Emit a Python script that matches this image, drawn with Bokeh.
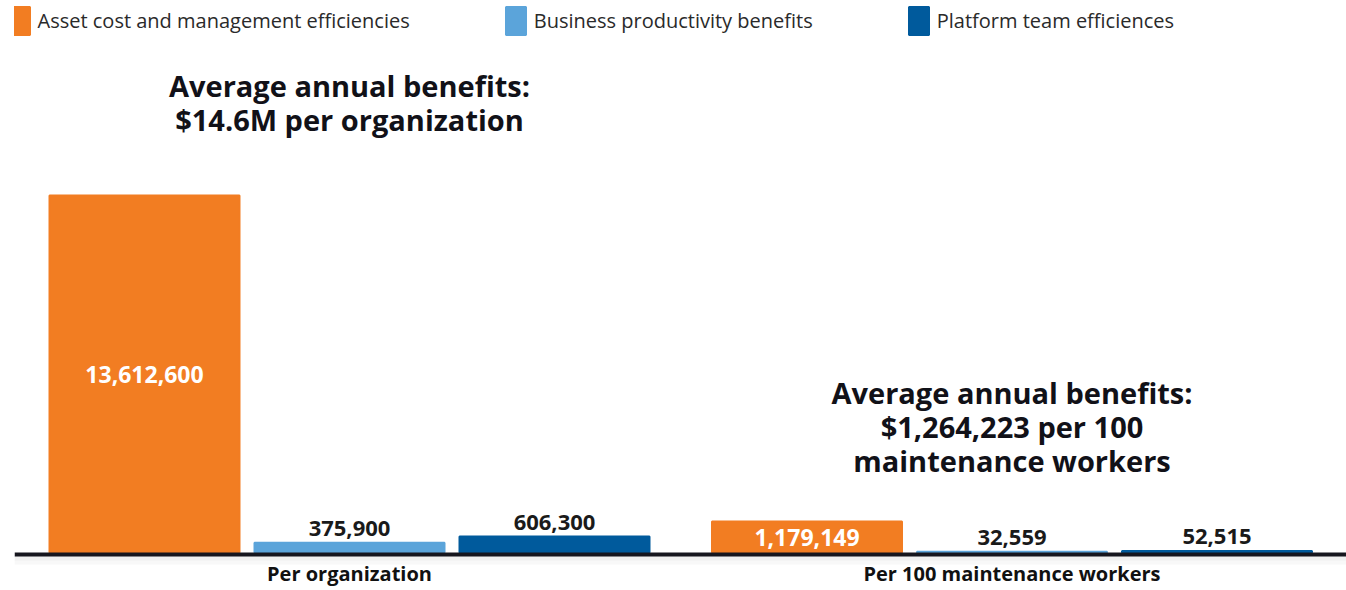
from bokeh.plotting import figure
from bokeh.models import Range1d, Legend, LegendItem, ColumnDataSource, Span
from bokeh.core.properties import value
from bokeh.embed import file_html
from bokeh.resources import INLINE

# ---- data ----
groups = ["Per organization", "Per 100 maintenance workers"]
series = ["Asset cost and management efficiencies",
          "Business productivity benefits",
          "Platform team efficiences"]
per_org = [13612600, 375900, 606300]
per_100 = [1179149, 32559, 52515]
titles = ["Average annual benefits:\n$14.6M per organization",
          "Average annual benefits:\n$1,264,223 per 100\nmaintenance workers"]
colors = ["#F27D22", "#5BA4DA", "#005A9C"]

# ---- layout constants (pixels) ----
W, H = 1346, 590
LEFT = 14                # frame starts here (baseline starts here)
BASE_FROM_TOP = 552      # baseline position (px from top)
BAR_PX = 357             # pixel height of largest bar
X0, SSTEP, GSTEP, BAR_W = 144, 205, 662.5, 190
FONT = "Open Sans"

upp = max(per_org) / BAR_PX   # data units per pixel

p = figure(width=W, height=H, output_backend="svg", toolbar_location=None,
           x_range=Range1d(LEFT, W),
           y_range=Range1d(-(H - BASE_FROM_TOP) * upp, BASE_FROM_TOP * upp),
           min_border=0, min_border_left=LEFT)
p.outline_line_color = None
p.grid.visible = False
p.axis.visible = False
p.background_fill_color = "white"
p.border_fill_color = "white"

vals = [per_org, per_100]
items = []
for i, name in enumerate(series):
    xs = [X0 + g * GSTEP + i * SSTEP for g in range(len(groups))]
    tops = [vals[g][i] for g in range(len(groups))]
    src = ColumnDataSource(dict(x=xs, left=[x - BAR_W / 2 for x in xs],
                                right=[x + BAR_W / 2 for x in xs], top=tops,
                                label=[f"{v:,}" for v in tops],
                                mid=[t / 2 for t in tops]))
    r = p.quad(left="left", right="right", top="top", bottom=0, source=src,
               fill_color=colors[i], line_color=colors[i], line_width=2)
    items.append(LegendItem(label=name, renderers=[r]))
    if i == 0:
        p.text(x="x", y="mid", text="label", source=src, text_color="white",
               text_font=value(FONT), text_font_style="bold", text_font_size="23px",
               text_align="center", text_baseline="middle")
    else:
        p.text(x="x", y="top", text="label", source=src, text_color="#1a1a1a",
               text_font=value(FONT), text_font_style="bold", text_font_size="22px",
               text_align="center", text_baseline="bottom", y_offset=-7)

# baseline with a soft shadow
p.add_layout(Span(location=-6 * upp, dimension="width", line_color="#f1f1f1",
                  line_width=5))
p.add_layout(Span(location=-10 * upp, dimension="width", line_color="#f8f8f8",
                  line_width=4))
p.add_layout(Span(location=-2 * upp, dimension="width", line_color="#16161e",
                  line_width=4))

centers = [X0 + g * GSTEP + SSTEP for g in range(len(groups))]

# category labels under the baseline
csrc = ColumnDataSource(dict(x=centers, y=[-21 * upp] * len(groups), text=groups))
p.text(x="x", y="y", text="text", source=csrc, text_color="#111111",
       text_font=value(FONT), text_font_style="bold", text_font_size="20px",
       text_align="center", text_baseline="middle")

# titles
title_px = [450, 126]
tsrc = ColumnDataSource(dict(x=centers, y=[t * upp for t in title_px], text=titles))
p.text(x="x", y="y", text="text", source=tsrc, text_color="#111118",
       text_font=value(FONT), text_font_style="bold", text_font_size="29px",
       text_align="center", text_baseline="middle", text_line_height=0.86)

legend = Legend(items=items, orientation="horizontal", location=(-7.5, H - 37.5),
                glyph_width=25, glyph_height=35, label_height=35,
                label_standoff=6, spacing=93,
                padding=0, margin=0, border_line_color=None, background_fill_alpha=0,
                label_text_font=FONT, label_text_font_size="20px",
                label_text_color="#2a2a2a", label_text_baseline="middle")
p.add_layout(legend)

open("out.html", "w").write(file_html(p, INLINE))
